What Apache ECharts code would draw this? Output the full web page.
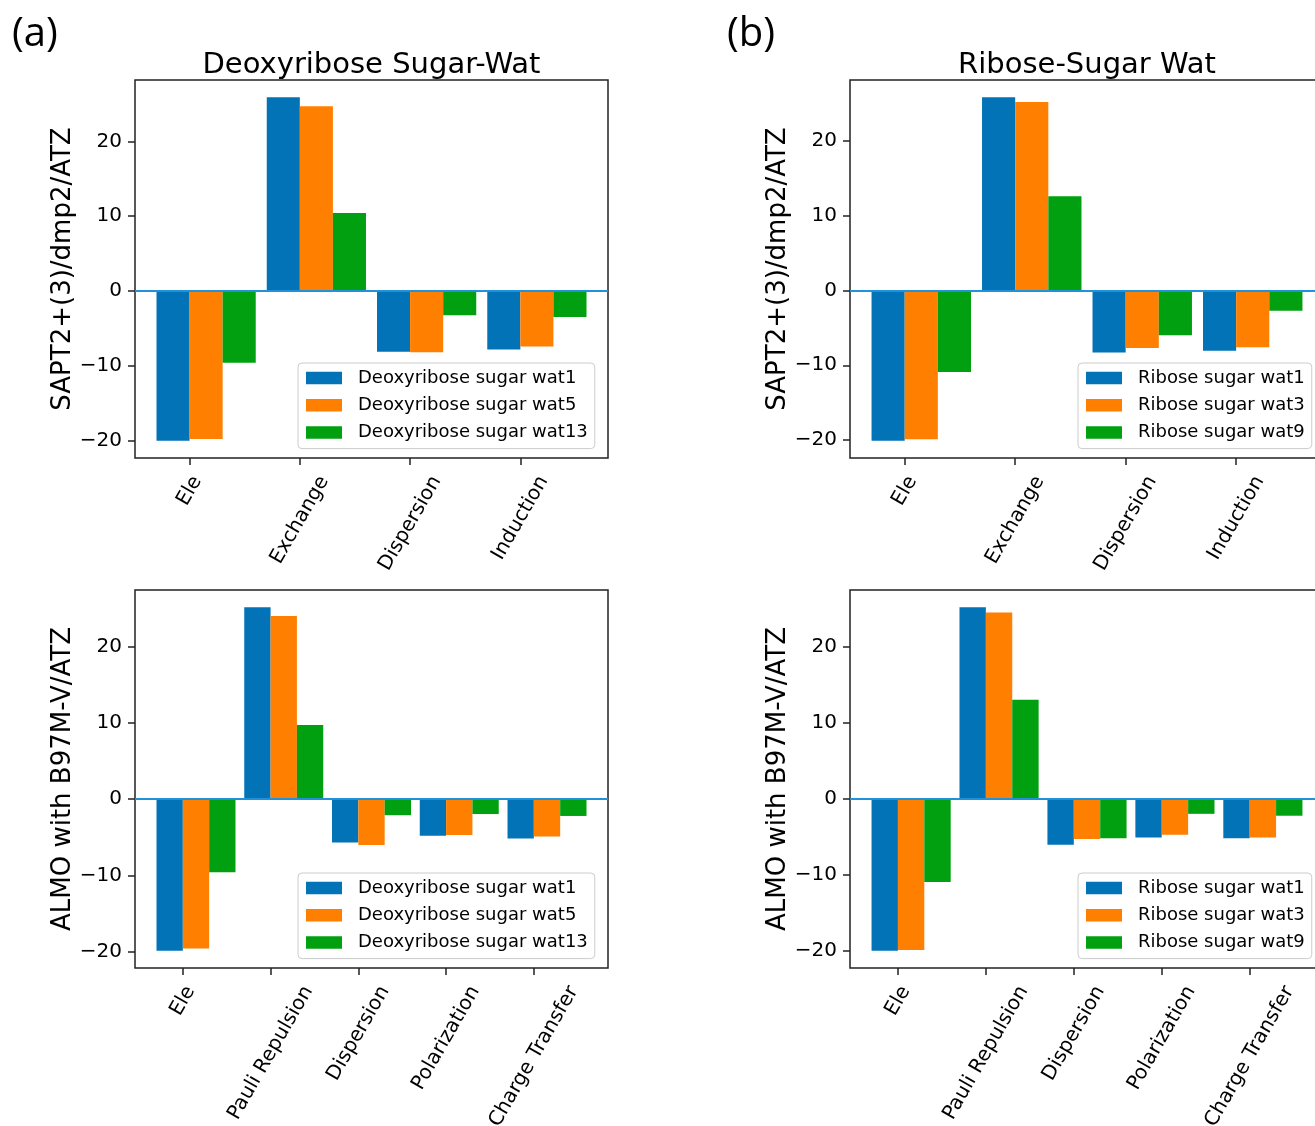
<!DOCTYPE html>
<html>
<head>
<meta charset="utf-8">
<script src="https://cdn.jsdelivr.net/npm/echarts@6/dist/echarts.min.js"></script>
<style>
  html, body { margin: 0; padding: 0; background: #ffffff; }
  #chart { width: 1315px; height: 1126px; }
</style>
</head>
<body>
<div id="chart"></div>
<script>
// Energy decomposition terms
const sapt_terms = ['Ele', 'Exchange', 'Dispersion', 'Induction'];
const almo_terms = ['Ele', 'Pauli Repulsion', 'Dispersion', 'Polarization', 'Charge Transfer'];

const deoxy_names = ['Deoxyribose sugar wat1', 'Deoxyribose sugar wat5', 'Deoxyribose sugar wat13'];
const ribose_names = ['Ribose sugar wat1', 'Ribose sugar wat3', 'Ribose sugar wat9'];

// SAPT2+(3)/dmp2/ATZ components
const sapt_deoxy_wat1  = [-20.05, 25.9, -8.15, -7.85];
const sapt_deoxy_wat5  = [-19.8, 24.7, -8.2, -7.45];
const sapt_deoxy_wat13 = [-9.6, 10.4, -3.25, -3.5];

const sapt_ribose_wat1 = [-20.1, 25.85, -8.3, -8.05];
const sapt_ribose_wat3 = [-19.9, 25.2, -7.7, -7.6];
const sapt_ribose_wat9 = [-10.9, 12.6, -6.0, -2.7];

// ALMO-EDA with B97M-V/ATZ components
const almo_deoxy_wat1  = [-19.9, 25.2, -5.7, -4.8, -5.15];
const almo_deoxy_wat5  = [-19.6, 24.05, -6.0, -4.7, -4.9];
const almo_deoxy_wat13 = [-9.6, 9.75, -2.1, -1.95, -2.2];

const almo_ribose_wat1 = [-19.95, 25.2, -6.0, -5.05, -5.15];
const almo_ribose_wat3 = [-19.85, 24.5, -5.25, -4.7, -5.05];
const almo_ribose_wat9 = [-10.9, 13.05, -5.15, -1.95, -2.2];

const y_ticks = [-20, -10, 0, 10, 20];

// ---------------------------------------------------------------
const BAR_W = 0.3;
const COLORS = ['#0173b6', '#ff7f00', '#01a010'];
const FONT = "'DejaVu Sans', sans-serif";
const LABEL_ROT = 60;
const TICK_FS = 20;
const TICK_LH = 23;
const AX_COLOR = '#222222';

const panels = [
  { grid: { left: 135, top: 80, width: 473, height: 378 }, title: 'Deoxyribose Sugar-Wat',
    ylabel: 'SAPT2+(3)/dmp2/ATZ', terms: sapt_terms, names: deoxy_names,
    values: [sapt_deoxy_wat1, sapt_deoxy_wat5, sapt_deoxy_wat13], legend: { left: 298, top: 363 } },
  { grid: { left: 850, top: 80, width: 474, height: 378 }, title: 'Ribose-Sugar Wat',
    ylabel: 'SAPT2+(3)/dmp2/ATZ', terms: sapt_terms, names: ribose_names,
    values: [sapt_ribose_wat1, sapt_ribose_wat3, sapt_ribose_wat9], legend: { left: 1078, top: 363 } },
  { grid: { left: 135, top: 590, width: 473, height: 378 }, title: null,
    ylabel: 'ALMO with B97M-V/ATZ', terms: almo_terms, names: deoxy_names,
    values: [almo_deoxy_wat1, almo_deoxy_wat5, almo_deoxy_wat13], legend: { left: 298, top: 873 } },
  { grid: { left: 850, top: 590, width: 474, height: 378 }, title: null,
    ylabel: 'ALMO with B97M-V/ATZ', terms: almo_terms, names: ribose_names,
    values: [almo_ribose_wat1, almo_ribose_wat3, almo_ribose_wat9], legend: { left: 1078, top: 873 } }
];

const measureCtx = document.createElement('canvas').getContext('2d');
function textWidth(s, size) {
  measureCtx.font = size + "px 'DejaVu Sans'";
  return measureCtx.measureText(s).width;
}

function fmtTick(v) {
  return v < 0 ? '\u2212' + Math.abs(v) : String(v);
}

function barRenderer(k) {
  return function (params, api) {
    const i = api.value(0);
    const v = api.value(1);
    const a = api.coord([i + (k - 1) * BAR_W, v]);
    const b = api.coord([i + k * BAR_W, 0]);
    return {
      type: 'rect',
      shape: { x: a[0], y: Math.min(a[1], b[1]), width: b[0] - a[0], height: Math.abs(b[1] - a[1]) },
      style: { fill: api.visual('color') }
    };
  };
}

const option = {
  animation: false,
  backgroundColor: '#ffffff',
  title: [
    { text: '(a)', left: 12, top: 15, padding: 0,
      textStyle: { fontFamily: "'Open Sans', sans-serif", fontSize: 40, fontWeight: 'normal', color: '#000' } },
    { text: '(b)', left: 727, top: 15, padding: 0,
      textStyle: { fontFamily: "'Open Sans', sans-serif", fontSize: 40, fontWeight: 'normal', color: '#000' } }
  ],
  grid: [], xAxis: [], yAxis: [], legend: [], series: []
};

const yRanges = [];

panels.forEach(function (p, g) {
  const n = p.terms.length;
  let lo = 0, hi = 0;
  p.values.forEach(function (arr) { arr.forEach(function (v) { lo = Math.min(lo, v); hi = Math.max(hi, v); }); });
  const ym = 0.05 * (hi - lo);
  yRanges.push([lo - ym, hi + ym]);
  const xLo = -BAR_W, xHi = (n - 1) + 2 * BAR_W;
  const xm = 0.05 * (xHi - xLo);
  const idx = p.terms.map(function (_, i) { return i; });

  option.grid.push(Object.assign({
    show: true, borderColor: AX_COLOR, borderWidth: 1.5, backgroundColor: 'transparent',
    containLabel: false, outerBoundsMode: 'none'
  }, p.grid));

  if (p.title) {
    option.title.push({
      text: p.title, left: p.grid.left + p.grid.width / 2, top: 51, padding: 0, textAlign: 'center',
      textStyle: { fontFamily: FONT, fontSize: 29, fontWeight: 'normal', color: '#000' }
    });
  }

  option.xAxis.push({
    type: 'value', gridIndex: g, min: xLo - xm, max: xHi + xm, position: 'bottom',
    axisLine: { show: false, onZero: false },
    splitLine: { show: false },
    axisTick: { show: true, length: 7, customValues: idx, lineStyle: { color: AX_COLOR, width: 1.5 } },
    axisLabel: { show: false }
  });

  option.yAxis.push({
    type: 'value', gridIndex: g, min: lo - ym, max: hi + ym, position: 'left',
    name: p.ylabel, nameLocation: 'middle', nameGap: 59, nameRotate: 90,
    nameTextStyle: { fontFamily: FONT, fontSize: 26, color: '#000' },
    axisLine: { show: false, onZero: false },
    splitLine: { show: false },
    axisTick: { show: true, length: 7, customValues: y_ticks, lineStyle: { color: AX_COLOR, width: 1.5 } },
    axisLabel: {
      show: true, customValues: y_ticks, margin: 13, formatter: fmtTick,
      showMinLabel: true, showMaxLabel: true,
      fontFamily: FONT, fontSize: TICK_FS, color: '#000'
    }
  });

  option.legend.push({
    orient: 'vertical', left: p.legend.left, top: p.legend.top,
    data: p.names.map(function (nm, k) { return { name: nm, icon: 'rect', itemStyle: { color: COLORS[k] } }; }),
    itemWidth: 36, itemHeight: 12.5, itemGap: 7.3,
    padding: [5, 7, 6, 8],
    backgroundColor: 'rgba(255,255,255,0.8)', borderColor: '#cccccc', borderWidth: 1, borderRadius: 4,
    selectedMode: false,
    textStyle: { fontFamily: FONT, fontSize: 18, lineHeight: 20, color: '#000', padding: [0, 0, 0, 11] }
  });

  p.values.forEach(function (arr, k) {
    const s = {
      type: 'custom', name: p.names[k], xAxisIndex: g, yAxisIndex: g,
      itemStyle: { color: COLORS[k] },
      encode: { x: 0, y: 1 },
      data: arr.map(function (v, i) { return [i, v]; }),
      renderItem: barRenderer(k)
    };
    if (k === 0) {
      s.markLine = {
        silent: true, symbol: 'none', label: { show: false }, animation: false,
        lineStyle: { color: '#2191d9', width: 2, type: 'solid' },
        data: [{ yAxis: 0 }]
      };
    }
    option.series.push(s);
  });
});

const chart = echarts.init(document.getElementById('chart'), null, { renderer: 'canvas' });
chart.setOption(option);

// Category labels: rotated text whose bounding box is centred under each tick,
// placed from the axis scales.
const th = LABEL_ROT * Math.PI / 180;
const labelGraphics = [];
panels.forEach(function (p, g) {
  p.terms.forEach(function (t, i) {
    const pt = chart.convertToPixel({ gridIndex: g }, [i, yRanges[g][0]]);
    const L = textWidth(t, TICK_FS);
    const H = L * Math.sin(th) + TICK_LH * Math.cos(th);
    labelGraphics.push({
      type: 'text', silent: true,
      x: pt[0], y: pt[1] + 14 + H / 2, rotation: th,
      style: {
        text: t, fill: '#000', align: 'center', verticalAlign: 'middle',
        fontFamily: FONT, fontSize: TICK_FS, lineHeight: TICK_LH
      }
    });
  });
});
chart.setOption({ graphic: labelGraphics });
</script>
</body>
</html>
